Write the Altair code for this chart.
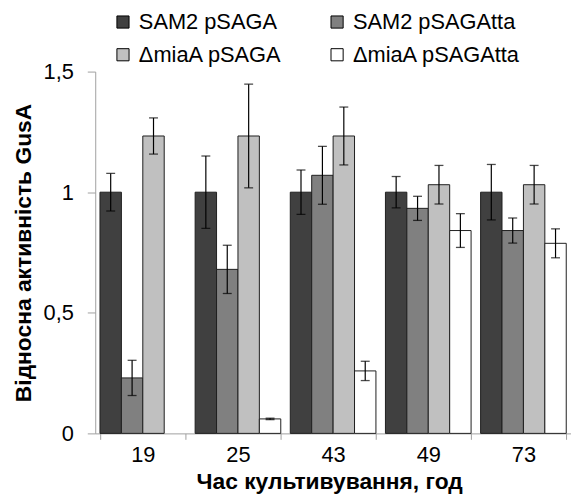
import altair as alt
import pandas as pd

times = ["19", "25", "43", "49", "73"]
series = ["SAM2 pSAGA", "SAM2 pSAGAtta", "ΔmiaA pSAGA", "ΔmiaA pSAGAtta"]
colors = ["#404040", "#808080", "#c0c0c0", "#ffffff"]
legend_order = ["SAM2 pSAGA", "ΔmiaA pSAGA", "SAM2 pSAGAtta", "ΔmiaA pSAGAtta"]

sam2 = [1.0, 1.0, 1.0, 1.0, 1.0]
sam2_err = [0.078, 0.15, 0.092, 0.065, 0.115]
sam2tta = [0.23, 0.68, 1.07, 0.933, 0.841]
sam2tta_err = [0.073, 0.10, 0.12, 0.05, 0.052]
mia = [1.233, 1.233, 1.233, 1.031, 1.031]
mia_err = [0.075, 0.215, 0.12, 0.08, 0.08]
miatta = [0.0, 0.06, 0.259, 0.841, 0.788]
miatta_err = [0.0, 0.003, 0.04, 0.07, 0.06]

rows = []
for s, vals, errs in zip(series, [sam2, sam2tta, mia, miatta],
                         [sam2_err, sam2tta_err, mia_err, miatta_err]):
    for t, v, e in zip(times, vals, errs):
        rows.append({"time": t, "series": s, "value": v, "lo": v - e, "hi": v + e})
df = pd.DataFrame(rows)

FONT = "Liberation Sans"

x_axis = alt.Axis(labelAngle=0, tickBand="extent", domainColor="#a0a0a0",
                  tickColor="#a0a0a0", tickSize=6, labelFontSize=22, labelFont=FONT,
                  labelColor="black", labelPadding=5, titleFontSize=23, titleFont=FONT,
                  titleFontWeight="bold", titleColor="black",
                  titleBaseline="alphabetic", titleY=56, titleX=236, titleAlign="center")
y_axis = alt.Axis(values=[0, 0.5, 1, 1.5], grid=False,
                  labelExpr="replace(format(datum.value, ''), '.', ',')",
                  domainColor="#a0a0a0", tickColor="#a0a0a0", tickSize=8,
                  labelFontSize=22, labelFont=FONT, labelColor="black", labelPadding=14,
                  titleFontSize=23, titleFont=FONT, titleFontWeight="bold",
                  titleColor="black", titlePadding=8)

X = alt.X("time:N", sort=times, title="Час культивування, год", axis=x_axis,
          scale=alt.Scale(paddingInner=0.1, paddingOuter=0.05))
XO = alt.XOffset("series:N", sort=series,
                 scale=alt.Scale(domain=series, paddingInner=0, paddingOuter=0))
YT = "Відносна активність GusA"
ysc = alt.Scale(domain=[0, 1.5], nice=False)

base = alt.Chart(df).transform_filter("datum.value > 0")

bars = base.mark_bar(stroke="#1e1e1e", strokeWidth=1).encode(
    x=X, xOffset=XO,
    y=alt.Y("value:Q", scale=ysc, axis=y_axis, title=YT),
    color=alt.Color("series:N", sort=series,
                    scale=alt.Scale(domain=series, range=colors),
                    legend=alt.Legend(orient="none", legendX=17, legendY=-61, title=None,
                                      values=legend_order,
                                      columns=2, symbolType="square", symbolSize=150,
                                      symbolStrokeColor="black", symbolStrokeWidth=1,
                                      labelFontSize=22, labelFont=FONT, labelColor="black",
                                      labelLimit=300, labelOffset=5, columnPadding=44,
                                      rowPadding=11, padding=0)),
)

rules = base.mark_rule(color="black", strokeWidth=1.2).encode(
    x=X, xOffset=XO,
    y=alt.Y("lo:Q", scale=ysc, axis=y_axis, title=YT), y2="hi:Q")
caps_lo = base.mark_tick(orient="horizontal", size=9, thickness=1.3, color="black").encode(
    x=X, xOffset=XO, y=alt.Y("lo:Q", scale=ysc, axis=y_axis, title=YT))
caps_hi = base.mark_tick(orient="horizontal", size=9, thickness=1.3, color="black").encode(
    x=X, xOffset=XO, y=alt.Y("hi:Q", scale=ysc, axis=y_axis, title=YT))

chart = alt.layer(bars, rules, caps_lo, caps_hi).properties(
    width=480, height=365,
    autosize=alt.AutoSizeParams(type="none"),
    padding={"left": 88, "top": 62, "right": 0, "bottom": 60},
).configure_view(stroke=None)

chart.save("out.html", embed_options={"renderer": "svg", "actions": False})
